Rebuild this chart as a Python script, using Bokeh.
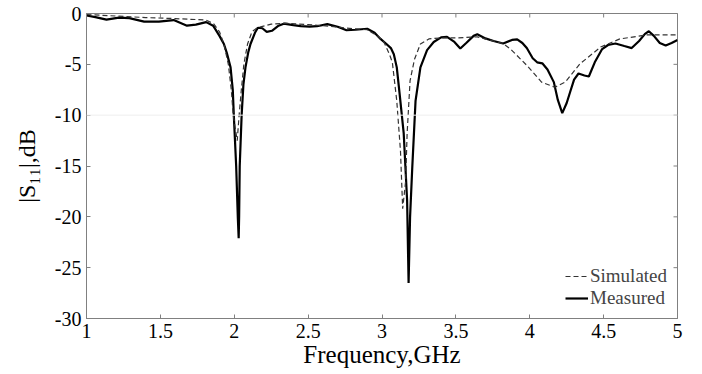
import math
from bokeh.plotting import figure
from bokeh.models import (Range1d, FixedTicker, Legend, LegendItem, Span, CustomJSTickFormatter)
from bokeh.embed import file_html
from bokeh.resources import INLINE

# ---- data ----
meas_x = [1.00, 1.06, 1.135, 1.22, 1.29, 1.39, 1.49, 1.59, 1.68, 1.74, 1.81, 1.857, 1.90, 1.93, 1.95,
          1.975, 1.99, 1.997, 2.013, 2.024, 2.03, 2.033, 2.037, 2.05, 2.062, 2.076, 2.095, 2.11, 2.14,
          2.16, 2.19, 2.22, 2.255, 2.30, 2.335, 2.40, 2.45, 2.51, 2.56, 2.63, 2.70, 2.76, 2.82, 2.90,
          2.95, 2.99, 3.03, 3.06, 3.08, 3.10, 3.12, 3.147, 3.17, 3.18, 3.19, 3.205, 3.227, 3.26, 3.305,
          3.35, 3.40, 3.44, 3.49, 3.53, 3.57, 3.62, 3.645, 3.70, 3.755, 3.82, 3.88, 3.915, 3.95, 3.98,
          4.02, 4.05, 4.085, 4.12, 4.163, 4.19, 4.22, 4.25, 4.276, 4.30, 4.33, 4.37, 4.40, 4.44, 4.49,
          4.53, 4.58, 4.64, 4.69, 4.74, 4.78, 4.806, 4.84, 4.88, 4.92, 4.96, 5.00]
meas_y = [-0.2, -0.35, -0.6, -0.4, -0.45, -0.8, -0.8, -0.65, -1.2, -1.1, -0.85, -1.2, -2.2, -3.0, -3.9,
          -5.3, -7.5, -10.0, -15.0, -20.0, -22.1, -20.0, -15.0, -10.0, -7.0, -5.3, -3.8, -3.0, -1.9,
          -1.4, -1.45, -1.8, -1.7, -1.2, -1.0, -1.15, -1.25, -1.3, -1.25, -1.05, -1.3, -1.65, -1.6, -1.5,
          -1.9, -2.5, -3.0, -3.4, -4.0, -5.3, -8.0, -11.8, -18.4, -26.5, -20.0, -15.1, -8.6, -5.3, -3.6,
          -2.8, -2.35, -2.3, -2.8, -3.45, -2.9, -2.2, -2.05, -2.45, -2.7, -2.95, -2.6, -2.55, -2.9, -3.4,
          -4.4, -4.8, -4.9, -5.5, -6.75, -8.5, -9.8, -8.8, -7.6, -6.5, -5.9, -6.1, -6.2, -4.8, -3.5,
          -3.1, -2.95, -3.2, -3.4, -2.7, -2.0, -1.75, -2.2, -2.9, -3.15, -2.9, -2.6]

sim_x = [1.00, 1.2, 1.4, 1.6, 1.75, 1.81, 1.86, 1.90, 1.93, 1.96, 1.98, 1.993, 2.02, 2.033, 2.048,
         2.065, 2.09, 2.12, 2.155, 2.25, 2.35, 2.50, 2.65, 2.80, 2.90, 2.97, 3.01, 3.05, 3.07, 3.10,
         3.125, 3.14, 3.16, 3.17, 3.19, 3.22, 3.26, 3.317, 3.40, 3.50, 3.645, 3.82, 3.87, 3.98, 4.08,
         4.17, 4.24, 4.34, 4.48, 4.61, 4.795, 5.00]
sim_y = [-0.1, -0.25, -0.4, -0.5, -0.6, -0.65, -1.0, -1.8, -3.0, -5.0, -7.5, -10.0, -12.5, -10.0, -7.5,
         -5.0, -3.0, -1.8, -1.4, -1.05, -0.95, -1.1, -1.25, -1.5, -1.6, -2.2, -2.7, -4.0, -4.8, -8.6,
         -13.5, -19.2, -16.5, -11.8, -6.6, -4.5, -3.0, -2.5, -2.4, -2.4, -2.3, -2.95, -3.5, -5.1, -6.75,
         -7.25, -6.75, -4.95, -3.3, -2.5, -2.1, -2.1]

x_ticks = [1, 1.5, 2, 2.5, 3, 3.5, 4, 4.5, 5]
y_ticks = [-30, -25, -20, -15, -10, -5, 0]
series_names = ["Simulated", "Measured"]
x_title = "Frequency,GHz"
y_title = "|S\u2081\u2081|,dB"

FONT = "Liberation Serif"
AX = "#808080"
X0, X1, Y0, Y1 = 1, 5, -30, 0

p = figure(width=702, height=374, x_range=Range1d(X0, X1), y_range=Range1d(Y0, Y1),
           output_backend="svg", toolbar_location=None,
           min_border_left=86, min_border_right=25, min_border_top=13, min_border_bottom=56)
p.background_fill_color = "white"
p.border_fill_color = "white"
p.outline_line_color = AX
p.grid.visible = False

fmt = CustomJSTickFormatter(code="return tick.toString();")
for ax, tk in ((p.xaxis[0], x_ticks), (p.yaxis[0], y_ticks)):
    ax.ticker = FixedTicker(ticks=tk)
    ax.formatter = fmt
    ax.axis_line_color = AX
    ax.major_tick_line_color = AX
    ax.major_tick_in = 4
    ax.major_tick_out = 0
    ax.minor_tick_line_color = None
    ax.major_label_text_font = FONT
    ax.major_label_text_font_size = "20px"
    ax.major_label_text_color = "black"
    ax.axis_label_text_font = FONT
    ax.axis_label_text_font_style = "normal"
    ax.axis_label_text_color = "black"
p.xaxis.major_label_standoff = 5
p.yaxis.major_label_standoff = 5
p.xaxis.axis_label = x_title
p.xaxis.axis_label_text_font_size = "25px"
p.xaxis.axis_label_standoff = 0
p.yaxis.axis_label = y_title
p.yaxis.axis_label_text_font_size = "24px"
p.yaxis.axis_label_standoff = 12

# mirrored inward ticks on the top and right edges (half of each dash is clipped by the frame)
p.scatter(x=x_ticks, y=[Y1] * len(x_ticks), marker="dash", angle=math.pi / 2, size=8,
          line_color=AX, line_width=1)
p.scatter(x=[X1] * len(y_ticks), y=y_ticks, marker="dash", size=8, line_color=AX, line_width=1)

p.add_layout(Span(location=-10, dimension="width", line_color="#eeeeee", line_width=1))

r_meas = p.line(meas_x, meas_y, line_color="black", line_width=2.2)
r_sim = p.line(sim_x, sim_y, line_color="#333333", line_width=1.2, line_dash="5 3")

legend = Legend(items=[LegendItem(label=series_names[0], renderers=[r_sim]),
                       LegendItem(label=series_names[1], renderers=[r_meas])],
                location=(479, 9), border_line_color=None, background_fill_alpha=0,
                label_text_font=FONT, label_text_font_size="19px", glyph_width=23,
                glyph_height=22, label_height=22, label_standoff=2, spacing=0,
                padding=0, margin=0)
p.add_layout(legend, "center")

open("out.html", "w").write(file_html(p, INLINE))
